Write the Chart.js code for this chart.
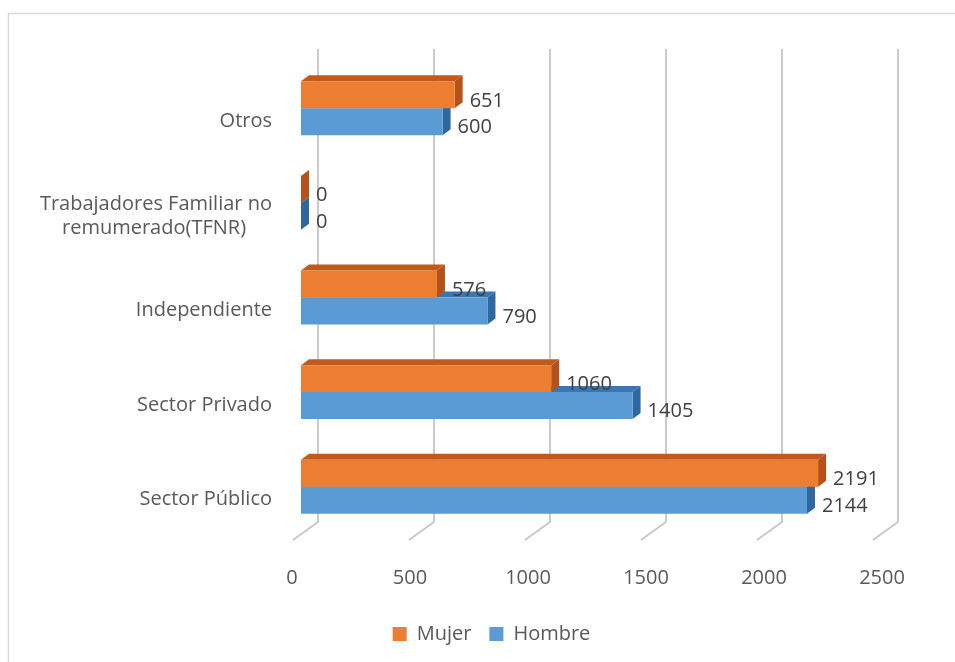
<!DOCTYPE html>
<html>
<head>
<meta charset="utf-8">
<script src="https://cdn.jsdelivr.net/npm/chart.js@4"></script>
<style>
  html, body { margin: 0; padding: 0; background: #fff; }
  #wrap { position: relative; width: 955px; height: 662px; }
</style>
</head>
<body>
<div id="wrap"><canvas id="grafico" width="955" height="662"></canvas></div>
<script>
/* barras horizontais estilo "3D" (Excel) - Mujer / Hombre */

const categorias = [
  "Otros",
  ["Trabajadores Familiar no", "remumerado(TFNR)"],
  "Independiente",
  "Sector Privado",
  "Sector Público",
];
const mujer = [651, 0, 576, 1060, 2191];
const hombre = [600, 0, 790, 1405, 2144];
const ticksX = [0, 500, 1000, 1500, 2000, 2500];

const cores = {
  mujer: { front: "#ED7D31", top: "#C35A1C", side: "#B5521A" },
  hombre: { front: "#5B9BD5", top: "#3A76B0", side: "#2F68A0" },
};
const DX = 8, DY = -6;  // profundidade das barras
const fonte = "'Open Sans', sans-serif";

// centraliza linhas de rótulos com várias linhas (eixo alinha à direita)
const medidor = document.createElement("canvas").getContext("2d");
function centrarLinhas(linhas) {
  if (!Array.isArray(linhas)) return linhas;
  medidor.font = "20px " + fonte;
  const larg = linhas.map((l) => medidor.measureText(l).width);
  const max = Math.max(...larg);
  const esp = medidor.measureText(" ").width;
  return linhas.map((l, i) => l + " ".repeat(Math.round((max - larg[i]) / 2 / esp)));
}

// moldura clara em volta
const moldura = {
  id: "moldura",
  beforeDraw(chart) {
    const c = chart.ctx;
    c.save();
    c.strokeStyle = "#d9d9d9";
    c.lineWidth = 1.5;
    c.strokeRect(8.5, 13.5, 1100, 1100);
    c.restore();
  },
  afterLayout(chart) {
    // legenda centrada como no original
    chart.legend.left += 41;
    chart.legend.right += 41;
  },
};

// grade "em perspectiva" + faces laterais das barras
const grade3d = {
  id: "grade3d",
  beforeDatasetsDraw(chart) {
    const c = chart.ctx;
    const xs = chart.scales.x;
    const area = chart.chartArea;
    const k = 580 / (area.right - area.left);
    c.save();
    c.strokeStyle = "#c6c6c6";
    c.lineWidth = 1.8;
    ticksX.forEach((v) => {
      const p = xs.getPixelForValue(v);
      const xb = area.left + 17 + (p - area.left) * k;
      const xf = area.left - 8 + (p - area.left) * k;
      c.beginPath();
      c.moveTo(xb, 49);
      c.lineTo(xb, 522);
      c.lineTo(xf, 540);
      c.stroke();
    });
    // faces de profundidade: hombre primeiro, depois mujer
    [1, 0].forEach((di) => {
      const meta = chart.getDatasetMeta(di);
      const cor = di === 0 ? cores.mujer : cores.hombre;
      meta.data.forEach((bar) => {
        const p = bar.getProps(["x", "y", "base", "height"], true);
        const t = p.y - p.height / 2, b = p.y + p.height / 2;
        c.fillStyle = cor.top;
        c.beginPath();
        c.moveTo(p.base, t);
        c.lineTo(p.x, t);
        c.lineTo(p.x + DX, t + DY);
        c.lineTo(p.base + DX, t + DY);
        c.closePath();
        c.fill();
        c.fillStyle = cor.side;
        c.beginPath();
        c.moveTo(p.x, t);
        c.lineTo(p.x + DX, t + DY);
        c.lineTo(p.x + DX, b + DY);
        c.lineTo(p.x, b);
        c.closePath();
        c.fill();
      });
    });
    c.restore();
  },
  afterDatasetsDraw(chart) {
    const c = chart.ctx;
    c.save();
    c.font = "20px " + fonte;
    c.fillStyle = "#404040";
    c.textAlign = "left";
    c.textBaseline = "middle";
    chart.data.datasets.forEach((ds, di) => {
      chart.getDatasetMeta(di).data.forEach((bar, i) => {
        c.fillText(String(ds.data[i]), bar.x + 15, bar.y + 6);
      });
    });
    c.restore();
  },
};

new Chart(document.getElementById("grafico"), {
  type: "bar",
  data: {
    labels: categorias,
    datasets: [
      {
        label: "Mujer",
        data: mujer,
        backgroundColor: cores.mujer.front,
        barPercentage: 1,
        categoryPercentage: 0.57,
      },
      {
        label: "Hombre",
        data: hombre,
        backgroundColor: cores.hombre.front,
        barPercentage: 1,
        categoryPercentage: 0.57,
      },
    ],
  },
  options: {
    indexAxis: "y",
    responsive: false,
    animation: false,
    layout: { padding: { left: 10, right: 64, top: 61, bottom: 8 } },
    scales: {
      x: {
        min: 0,
        max: 2500,
        afterBuildTicks: (s) => { s.ticks = ticksX.map((v) => ({ value: v })); },
        afterFit: (s) => { s.height = 72; },
        grid: { display: false, drawTicks: false },
        border: { display: false },
        ticks: {
          color: "#595959",
          font: { family: fonte, size: 20 },
          padding: 32,
          labelOffset: -9,
          maxRotation: 0,
          callback: (v) => String(v),
        },
      },
      y: {
        afterFit: (s) => { s.width = 291; },
        grid: { display: false, drawTicks: false },
        border: { display: false },
        ticks: {
          color: "#595959",
          font: { family: fonte, size: 20 },
          padding: 29,
          labelOffset: 13,
          autoSkip: false,
          callback: function (v) { return centrarLinhas(this.getLabelForValue(v)); },
        },
      },
    },
    plugins: {
      legend: {
        position: "bottom",
        labels: {
          boxWidth: 14,
          boxHeight: 14,
          padding: 18,
          color: "#595959",
          font: { family: fonte, size: 20 },
        },
      },
      tooltip: { enabled: false },
    },
  },
  plugins: [moldura, grade3d],
});
</script>
</body>
</html>
